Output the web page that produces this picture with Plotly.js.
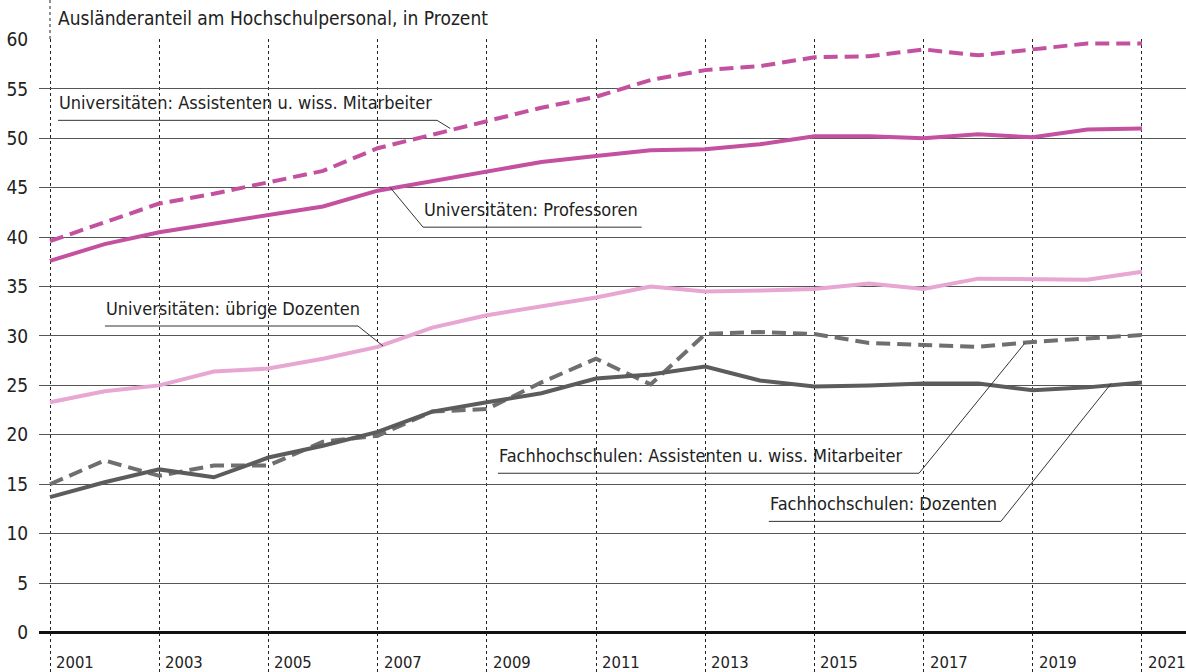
<!DOCTYPE html>
<html>
<head>
<meta charset="utf-8">
<script src="https://cdn.plot.ly/plotly-3.0.1.min.js"></script>
<style>html,body{margin:0;padding:0;background:#fff;}#chart{width:1186px;height:672px;}</style>
</head>
<body>
<div id="chart"></div>
<script>
// ---- Data ----
const years = [2001,2002,2003,2004,2005,2006,2007,2008,2009,2010,2011,2012,2013,2014,2015,2016,2017,2018,2019,2020,2021];
const uniAssistenten = [39.6,41.5,43.4,44.4,45.5,46.7,49.0,50.4,51.8,53.1,54.2,55.9,56.9,57.3,58.2,58.3,59.0,58.4,59.0,59.6,59.6];
const uniProfessoren = [37.6,39.3,40.5,41.4,42.2,43.1,44.7,45.7,46.7,47.6,48.2,48.8,48.9,49.4,50.2,50.2,50.0,50.4,50.1,50.9,51.0];
const uniUebrigeDozenten = [23.3,24.4,25.0,26.4,26.7,27.7,28.9,30.85,32.1,33.0,33.9,35.0,34.5,34.6,34.75,35.3,34.75,35.8,35.8,35.7,36.5];
const fhAssistenten = [15.0,17.4,15.85,16.9,16.9,19.3,19.9,22.35,22.6,25.3,27.7,25.1,30.2,30.4,30.2,29.3,29.1,28.9,29.4,29.8,30.1];
const fhDozenten = [13.7,15.2,16.5,15.7,17.7,18.9,20.3,22.35,23.3,24.2,25.7,26.1,26.9,25.5,24.9,25.0,25.2,25.2,24.5,24.8,25.3];
const tickYears = [2001,2003,2005,2007,2009,2011,2013,2015,2017,2019,2021];
const tickYearLabels = ["2001","2003","2005","2007","2009","2011","2013","2015","2017","2019","2021"];
const yTicks = [0,5,10,15,20,25,30,35,40,45,50,55,60];
const titleText = "Ausländeranteil am Hochschulpersonal, in Prozent";

// ---- Styles ----
const FONT = '"DejaVu Sans Condensed", "Liberation Sans Narrow", "Noto Sans", sans-serif';
const MAGENTA = '#c4519f';
const PINK = '#e8a7d2';
const GRAY = '#5c5c5c';
const GRAYD = '#6f6f6f';
const DASH = '14px,7px';

const traces = [
  {x: years, y: fhAssistenten, mode: 'lines', line: {color: GRAYD, width: 4, dash: DASH}},
  {x: years, y: fhDozenten, mode: 'lines', line: {color: GRAY, width: 4}},
  {x: years, y: uniUebrigeDozenten, mode: 'lines', line: {color: PINK, width: 4}},
  {x: years, y: uniProfessoren, mode: 'lines', line: {color: MAGENTA, width: 4}},
  {x: years, y: uniAssistenten, mode: 'lines', line: {color: MAGENTA, width: 4, dash: DASH}}
].map(t => Object.assign(t, {type: 'scatter', showlegend: false, hoverinfo: 'skip'}));

// label configuration: text, underline start/end (x0,x1,y), curve point (px,py), leader side
const labels = [
  {text: 'Universitäten: Assistenten u. wiss. Mitarbeiter', x0: 2001.147, x1: 2008.088, y: 51.82, px: 2008.33, py: 51.0, side: 'right'},
  {text: 'Universitäten: Professoren', x0: 2007.832, x1: 2011.837, y: 41.01, px: 2007.227, py: 45.05, side: 'left'},
  {text: 'Universitäten: übrige Dozenten', x0: 2002.007, x1: 2006.641, y: 31.01, px: 2007.099, py: 28.99, side: 'right'},
  {text: 'Fachhochschulen: Assistenten u. wiss. Mitarbeiter', x0: 2009.205, x1: 2016.916, y: 16.11, px: 2018.848, py: 29.23, side: 'right'},
  {text: 'Fachhochschulen: Dozenten', x0: 2014.165, x1: 2018.416, y: 11.24, px: 2020.438, py: 25.2, side: 'right'}
];

const shapes = [];
const annotations = [];

labels.forEach(l => {
  const path = l.side === 'right'
    ? `M ${l.x0},${l.y} L ${l.x1},${l.y} L ${l.px},${l.py}`
    : `M ${l.px},${l.py} L ${l.x0},${l.y} L ${l.x1},${l.y}`;
  shapes.push({type: 'path', xref: 'x', yref: 'y', path: path, line: {color: '#333', width: 1}});
  annotations.push({
    text: l.text, x: l.x0, y: l.y, xref: 'x', yref: 'y', xanchor: 'left', yanchor: 'bottom',
    showarrow: false, yshift: 5, xshift: -1,
    font: {family: FONT, size: 18, color: '#222'}
  });
});

// year labels right of the dashed year lines
tickYears.forEach((yr, i) => {
  annotations.push({
    text: tickYearLabels[i], x: yr, y: -3, xref: 'x', yref: 'y', xanchor: 'left', yanchor: 'middle',
    showarrow: false, xshift: 5, borderpad: 0, font: {family: FONT, size: 16.5, color: '#222'}
  });
});

// title
annotations.push({
  text: titleText, x: 2001.147, y: 1.033, xref: 'x', yref: 'paper', xanchor: 'left', yanchor: 'middle',
  showarrow: false, xshift: -2, font: {family: FONT, size: 19, color: '#222'}
});

// first year line extends above the plot
shapes.push({type: 'line', xref: 'x', yref: 'paper', x0: years[0], x1: years[0], y0: 1, y1: 1.07,
  line: {color: '#222', width: 1, dash: '3px,3px'}});

const layout = {
  width: 1186, height: 672,
  margin: {l: 39, r: 0, t: 39, b: 0, pad: 0},
  paper_bgcolor: '#fff', plot_bgcolor: '#fff',
  font: {family: FONT, size: 18, color: '#222'},
  xaxis: {
    range: [2000.7985, 2021.806], tickvals: tickYears, showticklabels: false,
    showgrid: true, gridcolor: '#222', gridwidth: 1, griddash: '3px,3px',
    zeroline: false, showline: false, ticks: '', fixedrange: true
  },
  yaxis: {
    range: [-4, 60.05], tickvals: yTicks, ticktext: yTicks.map(String),
    showgrid: true, gridcolor: '#555', gridwidth: 1,
    zeroline: true, zerolinecolor: '#111', zerolinewidth: 3,
    showline: false, ticks: 'outside', ticklen: 6, tickcolor: 'rgba(0,0,0,0)',
    tickfont: {family: FONT, size: 19, color: '#222'}, fixedrange: true
  },
  shapes: shapes,
  annotations: annotations,
  showlegend: false
};

Plotly.newPlot('chart', traces, layout, {displayModeBar: false, staticPlot: true});
</script>
</body>
</html>
